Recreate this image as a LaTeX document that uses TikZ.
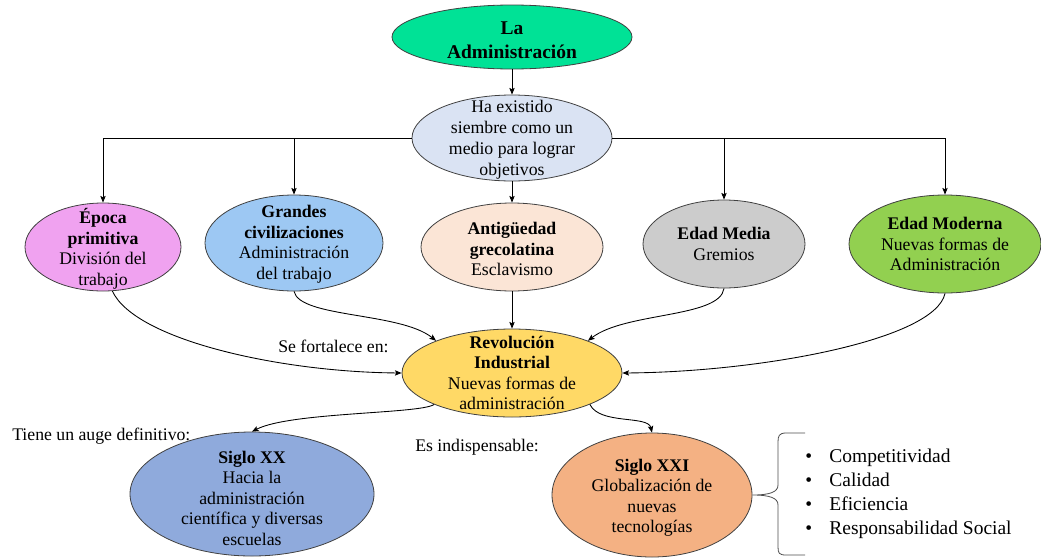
\documentclass[tikz,border=0pt]{standalone}
\usepackage{fontspec}
\setmainfont{Liberation Serif}
\usetikzlibrary{shapes.geometric,arrows.meta}

\definecolor{cAdm}{RGB}{0,226,150}
\definecolor{cSec}{RGB}{218,227,243}
\definecolor{cEpo}{RGB}{240,162,240}
\definecolor{cGra}{RGB}{157,200,243}
\definecolor{cAnt}{RGB}{251,229,214}
\definecolor{cMed}{RGB}{204,204,204}
\definecolor{cMod}{RGB}{146,208,80}
\definecolor{cRev}{RGB}{255,217,102}
\definecolor{cSxx}{RGB}{143,170,220}
\definecolor{cSxxi}{RGB}{244,177,131}

\tikzset{
  bubble/.style={ellipse, draw=black!75, line width=0.6pt, inner sep=0pt},
  rad/.style 2 args={minimum width=#1*1.5pt, minimum height=#2*1.5pt},
  txt/.style={align=center, inner sep=0pt, font=\fontsize{13.3}{15.4}\selectfont},
  link/.style={line width=0.65pt, -{Stealth[length=5pt,width=4pt,inset=1pt]}},
  brace/.style={line width=0.6pt, draw=black!70}
}

\begin{document}
\begin{tikzpicture}[x=0.75pt,y=-0.75pt]

\useasboundingbox (0,0) rectangle (1041,557);

% ellipses
\node[bubble, fill=cAdm,  rad={120}{32}] (adm)  at (512,37)  {};
\node[bubble, fill=cSec,  rad={100}{43}] (sec)  at (512,138) {};
\node[bubble, fill=cEpo,  rad={78}{44}]  (epo)  at (103,247) {};
\node[bubble, fill=cGra,  rad={89}{48}]  (gra)  at (294,243) {};
\node[bubble, fill=cAnt,  rad={91}{44}]  (ant)  at (512,247) {};
\node[bubble, fill=cMed,  rad={81}{44}]  (med)  at (724,244) {};
\node[bubble, fill=cMod,  rad={96}{49}]  (mod)  at (945,244) {};
\node[bubble, fill=cRev,  rad={110}{44}] (rev)  at (512,373) {};
\node[bubble, fill=cSxx,  rad={122}{62}] (sxx)  at (252,494) {};
\node[bubble, fill=cSxxi, rad={100}{62}] (sxxi) at (652,495) {};

% ellipse texts
\node[txt, font=\fontsize{14.6}{18}\selectfont\bfseries] (adm-t) at ([yshift=-2.5pt]adm) {La\\Administración};
\node[txt, font=\fontsize{13.3}{15.8}\selectfont] (sec-t) at ([yshift=-1.5pt]sec) {Ha existido\\siembre como un\\medio para lograr\\objetivos};
\node[txt] (epo-t) at ([yshift=-1.5pt]epo) {\textbf{Época}\\\textbf{primitiva}\\División del\\trabajo};
\node[txt] (gra-t) at ([yshift=-1pt]gra) {\textbf{Grandes}\\\textbf{civilizaciones}\\Administración\\del trabajo};
\node[txt] (ant-t) at ([yshift=-1.5pt]ant) {\textbf{Antigüedad}\\\textbf{grecolatina}\\Esclavismo};
\node[txt] (med-t) at (med) {\textbf{Edad Media}\\Gremios};
\node[txt] (mod-t) at (mod) {\textbf{Edad Moderna}\\Nuevas formas de\\Administración};
\node[txt] (rev-t) at (rev) {\textbf{Revolución}\\\textbf{Industrial}\\Nuevas formas de\\administración};
\node[txt] (sxx-t) at ([yshift=-3pt]sxx) {\textbf{Siglo XX}\\Hacia la\\administración\\científica y diversas\\escuelas};
\node[txt] (sxxi-t) at ([yshift=-2pt]sxxi) {\textbf{Siglo XXI}\\Globalización de\\nuevas\\tecnologías};

% free labels
\node[txt, anchor=west] (fort) at (278,346) {Se fortalece en:};
\node[txt, anchor=west] (auge) at (12,436) {Tiene un auge definitivo:};
\node[txt, anchor=west] (indi) at (415,447) {Es indispensable:};

% bullet list
\node[anchor=west, inner sep=0pt, font=\fontsize{14.6}{18}\selectfont] (list) at (805,494)
  {\begin{tabular}{@{}l@{\hspace{13pt}}l@{}}
    \textbullet & Competitividad\\
    \textbullet & Calidad\\
    \textbullet & Eficiencia\\
    \textbullet & Responsabilidad Social
  \end{tabular}};

% tree connectors
\draw[link] (adm) -- (sec);
\draw[link] (sec.west) -| (epo.north);
\draw[link] (sec.east) -| (mod.north);
\draw[link] (gra.north |- sec.west) -- (gra.north);
\draw[link] (med.north |- sec.east) -- (med.north);
\draw[link] (sec) -- (ant);

% convergence onto the Industrial Revolution
\draw[link] (epo.-78) .. controls (135,340) and (280,372) .. (rev.west);
\draw[link] (gra.south) .. controls (300,318) and (400,312) .. (rev.157);
\draw[link] (ant) -- (rev);
\draw[link] (med.south) .. controls (720,318) and (625,312) .. (rev.23);
\draw[link] (mod.south) .. controls (935,340) and (760,372) .. (rev.east);

% outgoing branches
\draw[link] (rev.-158) .. controls (420,414) and (290,412) .. (sxx.north);
\draw[link] (rev.-22) .. controls (600,425) and (648,415) .. (sxxi.north);

% curly brace
\draw[brace] (805,433) -- (786,433) .. controls (779,433) and (778,436) .. (778,442)
  -- (778,485) .. controls (778,492) and (770,495) .. (sxxi.east)
  .. controls (770,495) and (778,498) .. (778,505)
  -- (778,547) .. controls (778,553) and (779,555) .. (786,555) -- (805,555);
\end{tikzpicture}
\end{document}
